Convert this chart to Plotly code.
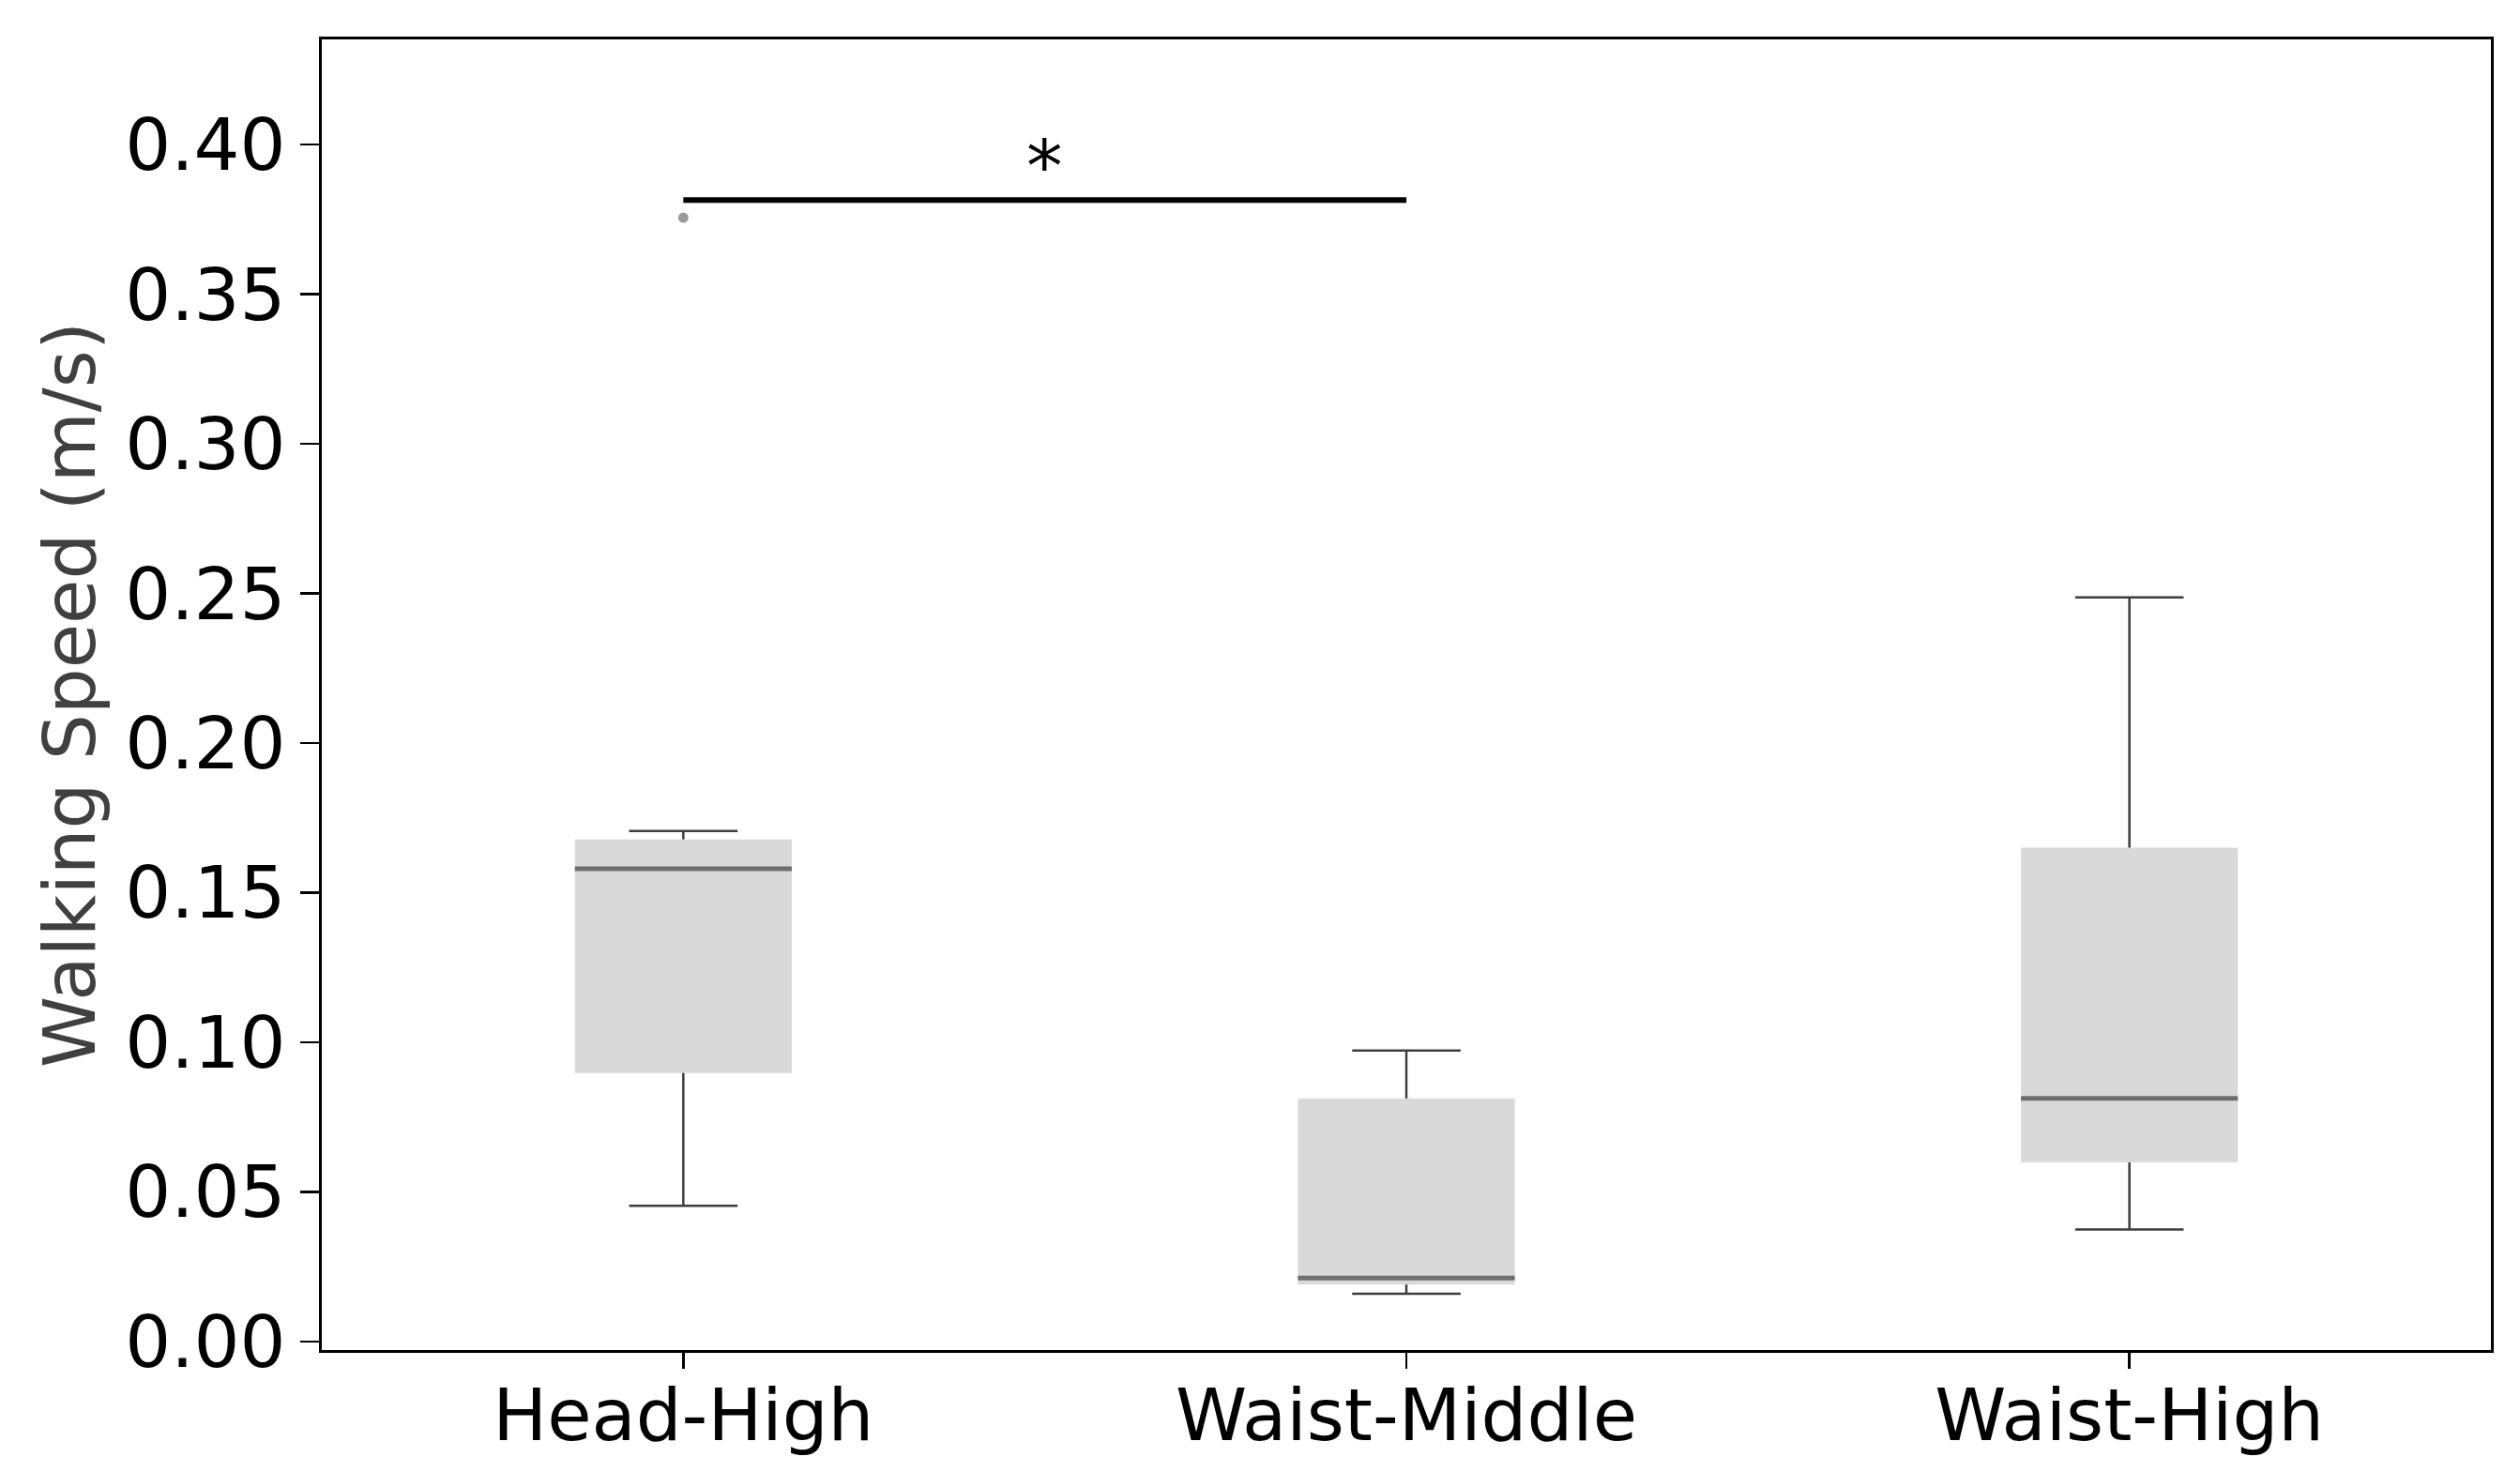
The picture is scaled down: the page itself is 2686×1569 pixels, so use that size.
import plotly.graph_objects as go

# ---- data ----
categories = ["Head-High", "Waist-Middle", "Waist-High"]
lower_whisker = [0.0453, 0.0159, 0.0374]
q1_values = [0.0897, 0.0190, 0.0598]
median_values = [0.1580, 0.0212, 0.0812]
q3_values = [0.1678, 0.0812, 0.1650]
upper_whisker = [0.1706, 0.0972, 0.2487]
outlier_groups = ["Head-High"]
outlier_values = [0.3756]
sig_pair = ["Head-High", "Waist-Middle"]
sig_level = [0.3815, 0.3815]
sig_label = "*"
y_tick_values = [0.00, 0.05, 0.10, 0.15, 0.20, 0.25, 0.30, 0.35, 0.40]
y_title = "Walking Speed (m/s)"

# ---- styles ----
BOX_W = 0.30
CAP_W = 0.15
FILL = "#d9d9d9"
WHISKER = "#3d3d3d"
MEDIAN = "#6e6e6e"
FONT = "DejaVu Sans"
FS = 77

pos = {c: i for i, c in enumerate(categories)}
xs = [pos[c] for c in categories]

fig = go.Figure()

# box bodies
fig.add_trace(go.Bar(
    x=xs,
    base=q1_values,
    y=[b - a for a, b in zip(q1_values, q3_values)],
    width=BOX_W,
    marker=dict(color=FILL, line=dict(width=0)),
    hoverinfo="skip",
))

# whiskers and caps
wx, wy = [], []
for i, lw, a, b, uw in zip(xs, lower_whisker, q1_values, q3_values, upper_whisker):
    wx += [i, i, None, i, i, None,
           i - CAP_W / 2, i + CAP_W / 2, None, i - CAP_W / 2, i + CAP_W / 2, None]
    wy += [lw, a, None, b, uw, None, lw, lw, None, uw, uw, None]
fig.add_trace(go.Scatter(x=wx, y=wy, mode="lines",
                         line=dict(color=WHISKER, width=2.5),
                         hoverinfo="skip"))

# medians
mx, my = [], []
for i, m in zip(xs, median_values):
    mx += [i - BOX_W / 2, i + BOX_W / 2, None]
    my += [m, m, None]
fig.add_trace(go.Scatter(x=mx, y=my, mode="lines",
                         line=dict(color=MEDIAN, width=5),
                         hoverinfo="skip"))

# outliers
fig.add_trace(go.Scatter(x=[pos[g] for g in outlier_groups], y=outlier_values,
                         mode="markers",
                         marker=dict(color="#9a9a9a", size=11),
                         hoverinfo="skip"))

# significance bar
fig.add_trace(go.Scatter(x=[pos[g] for g in sig_pair], y=sig_level, mode="lines",
                         line=dict(color="black", width=6),
                         hoverinfo="skip"))
fig.add_annotation(x=sum(pos[g] for g in sig_pair) / 2, y=sig_level[0],
                   text=sig_label, showarrow=False, xanchor="center",
                   yanchor="bottom", yshift=-11,
                   font=dict(family=FONT, size=FS, color="black"))

axis_common = dict(
    showline=True, mirror=True, linecolor="black", linewidth=3,
    ticks="outside", tickwidth=2.5, tickcolor="black",
    showgrid=False, zeroline=False,
    tickfont=dict(family=FONT, size=FS, color="black"),
)

fig.update_layout(
    width=2686, height=1569,
    margin=dict(l=343, r=31, t=42, b=130),
    paper_bgcolor="white", plot_bgcolor="white",
    showlegend=False,
    font=dict(family=FONT),
    xaxis=dict(range=[-0.5, 2.5], tickvals=xs, ticktext=categories,
               ticklen=17, ticklabelstandoff=-16, **axis_common),
    yaxis=dict(range=[-0.0029, 0.4352], tickvals=y_tick_values,
               ticktext=[f"{v:.2f}" for v in y_tick_values],
               ticklen=20,
               title=dict(text=y_title, standoff=7,
                          font=dict(family=FONT, size=FS, color="#404040")),
               **axis_common),
)

page_fix = (
    "document.documentElement.style.margin='0';"
    "document.documentElement.style.padding='0';"
    "document.documentElement.style.overflow='hidden';"
    "document.body.style.margin='0';"
    "document.body.style.padding='0';"
    "document.body.style.overflow='hidden';"
)
fig.write_html("out.html", post_script=page_fix,
               config={"displayModeBar": False, "staticPlot": True})
